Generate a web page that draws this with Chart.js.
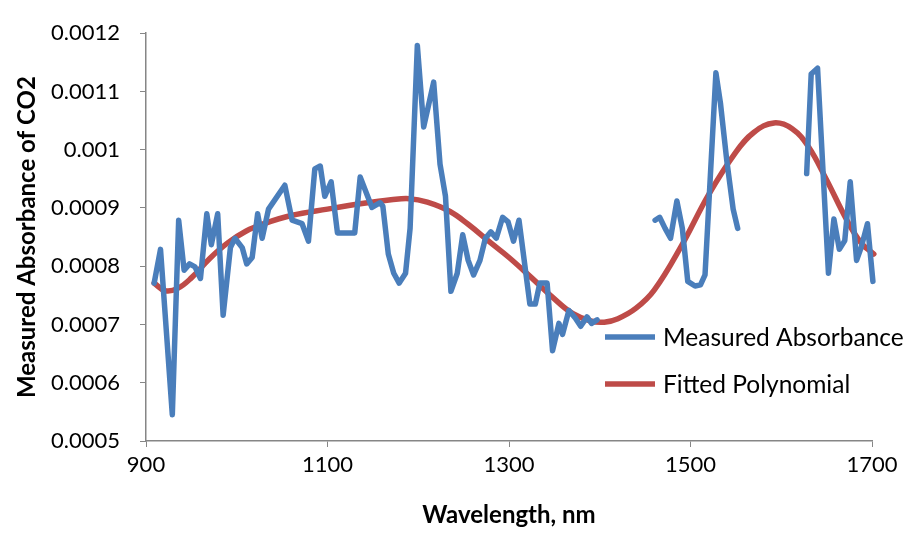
<!DOCTYPE html>
<html>
<head>
<meta charset="utf-8">
<script src="https://cdn.jsdelivr.net/npm/chart.js@4"></script>
<style>
  html, body { margin: 0; padding: 0; background: #fff; }
  #absorbance { display: block; }
</style>
</head>
<body>
<canvas id="absorbance" width="912" height="533"></canvas>
<script>
// measured spectrum, null marks where the scan has no readings
const wavelength = [
    909, 916, 929, 936, 942, 948, 954, 960, 967, 972, 979, 985, 993, 998, 1006, 1011, 1017, 1023, 1028, 1035,
    1053, 1061, 1072, 1079, 1086, 1092, 1097, 1104, 1111, 1130, 1136, 1149, 1158, 1161, 1167, 1173, 1179, 1186,
    1191, 1199, 1206, 1217, 1224, 1230, 1236, 1243, 1249, 1255, 1261, 1268, 1274, 1280, 1286, 1293, 1299, 1305,
    1311, 1323, 1329, 1334, 1342, 1348, 1355, 1359, 1366, 1373, 1379, 1386, 1391, 1397,
    1430,
    1461, 1466, 1472, 1478, 1485, 1491, 1497, 1505, 1511, 1516, 1528, 1533, 1540, 1547, 1552,
    1590,
    1628, 1633, 1640, 1652, 1658, 1664, 1670, 1676, 1683, 1688, 1695, 1701
];
const absorbance = [
    0.000771, 0.000829, 0.000545, 0.000879, 0.000793, 0.000804, 0.000799, 0.000779, 0.000890, 0.000837,
    0.000890, 0.000716, 0.000832, 0.000848, 0.000832, 0.000804, 0.000815, 0.000890, 0.000848, 0.000898,
    0.000939, 0.000879, 0.000873, 0.000843, 0.000967, 0.000972, 0.000920, 0.000945, 0.000857, 0.000857,
    0.000953, 0.000901, 0.000909, 0.000903, 0.000821, 0.000788, 0.000771, 0.000788, 0.000865, 0.001179,
    0.001039, 0.001116, 0.000975, 0.000920, 0.000757, 0.000788, 0.000854, 0.000810, 0.000785, 0.000810,
    0.000848, 0.000859, 0.000848, 0.000884, 0.000876, 0.000843, 0.000879, 0.000735, 0.000735, 0.000771,
    0.000771, 0.000655, 0.000702, 0.000683, 0.000724, 0.000711, 0.000697, 0.000713, 0.000702, 0.000708,
    null,
    0.000879, 0.000884, 0.000865, 0.000848, 0.000912, 0.000865, 0.000774, 0.000766, 0.000768, 0.000785,
    0.001132, 0.001080, 0.000981, 0.000898, 0.000865,
    null,
    0.000959, 0.001130, 0.001140, 0.000788, 0.000881, 0.000829, 0.000844, 0.000945, 0.000810, 0.000832,
    0.000873, 0.000774
];

// polynomial fit, sampled along the curve
const fitWavelength = [
    909, 921, 935, 950, 970, 990, 1010, 1030, 1060, 1100, 1140, 1170, 1190, 1210, 1235, 1255, 1280, 1300,
    1325, 1350, 1370, 1390, 1405, 1420, 1440, 1460, 1490, 1520, 1550, 1570, 1592, 1612, 1630, 1650, 1672, 1688, 1702
];
const fitAbsorbance = [
    0.000771, 0.000758, 0.000762, 0.000780, 0.000813, 0.000840, 0.000860, 0.000873, 0.000887, 0.000898,
    0.000908, 0.000914, 0.000916, 0.000910, 0.000894, 0.000872, 0.000840, 0.000815, 0.000780, 0.000744,
    0.000719, 0.000706, 0.000704, 0.000710, 0.000728, 0.000759, 0.000835, 0.000923, 0.000996, 0.001030,
    0.001046, 0.001036, 0.001005, 0.000948, 0.000880, 0.000840, 0.000821
];

const xTicks = [900, 1100, 1300, 1500, 1700];
const yTicks = [0.0005, 0.0006, 0.0007, 0.0008, 0.0009, 0.001, 0.0011, 0.0012];

const seriesNames = ['Measured Absorbance', 'Fitted Polynomial'];
const seriesColors = ['#4a7ebb', '#be4b48'];

const fontFamily = 'Lato, "Liberation Sans", sans-serif';
const axisGrey = '#868686';

function pares(xs, ys) {
    return xs.map((x, i) => ({ x: x, y: ys[i] }));
}

// legend sits partly outside the plot, so it is painted by hand
const legendaManual = {
    id: 'legendaManual',
    afterDraw(chart) {
        const ctx = chart.ctx;
        ctx.save();
        ctx.font = '24.5px ' + fontFamily;
        ctx.textBaseline = 'middle';
        ctx.lineCap = 'butt';
        chart.data.datasets.forEach((ds, i) => {
            const y = 337 + i * 47;
            ctx.strokeStyle = ds.borderColor;
            ctx.lineWidth = ds.borderWidth;
            ctx.beginPath();
            ctx.moveTo(605, y);
            ctx.lineTo(655, y);
            ctx.stroke();
            ctx.fillStyle = '#000';
            ctx.fillText(ds.label, 663, y + 1);
        });
        ctx.restore();
    }
};

new Chart(document.getElementById('absorbance').getContext('2d'), {
    type: 'scatter',
    data: {
        datasets: [{
            label: seriesNames[0],
            data: pares(wavelength, absorbance),
            showLine: true,
            spanGaps: false,
            clip: 10,
            borderColor: seriesColors[0],
            backgroundColor: seriesColors[0],
            borderWidth: 5.5,
            borderJoinStyle: 'round',
            borderCapStyle: 'round',
            pointRadius: 0,
            tension: 0
        }, {
            label: seriesNames[1],
            data: pares(fitWavelength, fitAbsorbance),
            showLine: true,
            clip: 10,
            borderColor: seriesColors[1],
            backgroundColor: seriesColors[1],
            borderWidth: 5.5,
            borderCapStyle: 'round',
            pointRadius: 0,
            tension: 0.4
        }]
    },
    options: {
        responsive: false,
        animation: false,
        devicePixelRatio: 1,
        layout: { padding: { top: 17, right: 40, left: 0, bottom: 0 } },
        plugins: {
            legend: { display: false },
            tooltip: { enabled: false }
        },
        scales: {
            x: {
                type: 'linear',
                min: xTicks[0],
                max: xTicks[xTicks.length - 1],
                afterBuildTicks: (scale) => { scale.ticks = xTicks.map(v => ({ value: v })); },
                afterFit: (scale) => { scale.height = 92; },
                grid: { drawOnChartArea: false, drawTicks: true, tickLength: 6, color: axisGrey },
                border: { color: axisGrey, width: 1.5 },
                ticks: {
                    color: '#000',
                    padding: 5,
                    font: { family: fontFamily, size: 22 },
                    callback: (v) => String(v)
                },
                title: {
                    display: true,
                    text: 'Wavelength, nm',
                    color: '#000',
                    padding: { top: 0, bottom: 3 },
                    font: { family: fontFamily, size: 24, weight: 'bold' }
                }
            },
            y: {
                type: 'linear',
                min: yTicks[0],
                max: yTicks[yTicks.length - 1],
                afterBuildTicks: (scale) => { scale.ticks = yTicks.map(v => ({ value: v })); },
                afterFit: (scale) => { scale.width = 146; },
                grid: { drawOnChartArea: false, drawTicks: true, tickLength: 6, color: axisGrey },
                border: { color: axisGrey, width: 1.5 },
                ticks: {
                    color: '#000',
                    padding: 20,
                    font: { family: fontFamily, size: 22 },
                    callback: (v) => String(+v.toFixed(4))
                },
                title: {
                    display: true,
                    text: 'Measured Absorbance of CO2',
                    color: '#000',
                    padding: { top: 13, bottom: 0 },
                    font: { family: fontFamily, size: 24, weight: 'bold' }
                }
            }
        }
    },
    plugins: [legendaManual]
});
</script>
</body>
</html>
